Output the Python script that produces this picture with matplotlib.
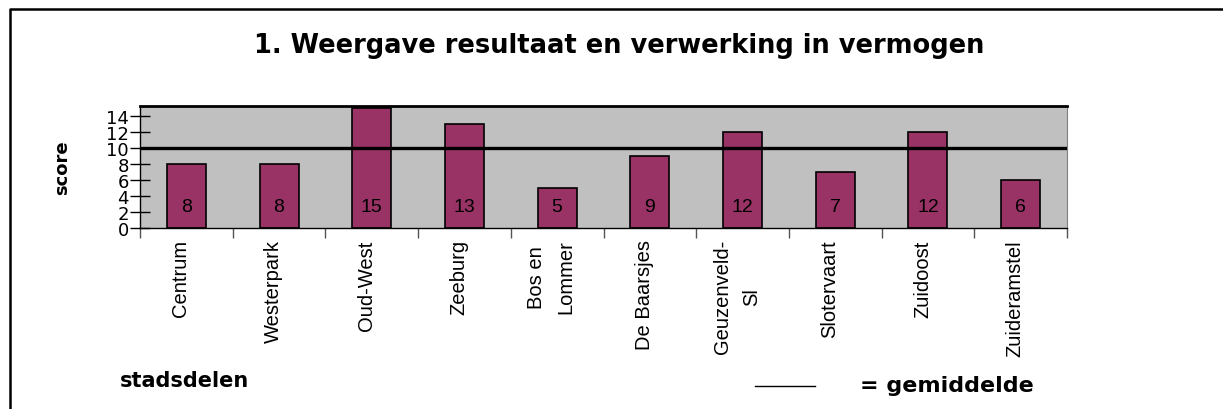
import matplotlib.pyplot as plt
from matplotlib.lines import Line2D

plt.rcParams['font.family'] = ['Liberation Sans', 'DejaVu Sans']

# scores per stadsdeel
stadsdelen = ['Centrum', 'Westerpark', 'Oud-West', 'Zeeburg', 'Bos en\nLommer',
              'De Baarsjes', 'Geuzenveld-\nSl', 'Slotervaart', 'Zuidoost', 'Zuideramstel']
scores = [8, 8, 15, 13, 5, 9, 12, 7, 12, 6]
gemiddelde = 10
yticks = [0, 2, 4, 6, 8, 10, 12, 14]

W, H = 1223, 410
fig = plt.figure(figsize=(W / 100, H / 100), dpi=100)
ax = fig.add_axes([140 / W, 1 - 229 / H, 927 / W, 122 / H])

# outer frame (only top and left edges fall inside the picture)
fig.lines.append(Line2D([9.5 / W, 9.5 / W, 1.0], [0.0, 1 - 10 / H, 1 - 10 / H],
                        transform=fig.transFigure, color='black', linewidth=1.8))

x = list(range(len(scores)))
ax.set_facecolor('#c0c0c0')
ax.bar(x, scores, width=0.42, color='#993366', edgecolor='black', linewidth=1.2, zorder=2)
for xi, s in zip(x, scores):
    ax.text(xi, 2.7, str(s), ha='center', va='center', fontsize=14, zorder=4)

ax.axhline(gemiddelde, color='black', linewidth=2.4, zorder=3)

ax.set_xlim(-0.5, len(scores) - 0.5)
ax.set_ylim(0, 15.2)
ax.set_yticks(yticks)
ax.set_yticklabels([str(v) for v in yticks], fontsize=13, family='DejaVu Sans')
ax.tick_params(axis='y', direction='inout', length=14, width=1, pad=1)

# category ticks sit on the boundaries, labels under the bars
ax.set_xticks([i - 0.5 for i in range(len(scores) + 1)])
ax.set_xticklabels([])
ax.tick_params(axis='x', direction='out', length=7, width=1, color='#555555')
for xi, name in zip(x, stadsdelen):
    ax.text(xi - 0.06, -1.4, name, rotation=90, ha='center', va='top', fontsize=14.5,
            linespacing=1.7)

for side in ['left', 'bottom']:
    ax.spines[side].set_color('black')
    ax.spines[side].set_linewidth(1)
ax.spines['top'].set_linewidth(2)
ax.spines['top'].set_color('black')
ax.spines['right'].set_color('#808080')

bold = dict(fontweight='bold', family='DejaVu Sans')
fig.text(619 / W, 1 - 46 / H, '1. Weergave resultaat en verwerking in vermogen',
         ha='center', va='center', fontsize=18.5, **bold)
fig.text(62 / W, 1 - 168 / H, 'score', rotation=90, ha='center', va='center',
         fontsize=13, **bold)
fig.text(120 / W, 1 - 381 / H, 'stadsdelen', ha='left', va='center',
         fontsize=15, **bold)
fig.lines.append(Line2D([755 / W, 815 / W], [1 - 387 / H, 1 - 387 / H],
                        transform=fig.transFigure, color='black', linewidth=1))
fig.text(860 / W, 1 - 386 / H, '= gemiddelde', ha='left', va='center',
         fontsize=16, **bold)

fig.savefig('out.png', dpi=100)
